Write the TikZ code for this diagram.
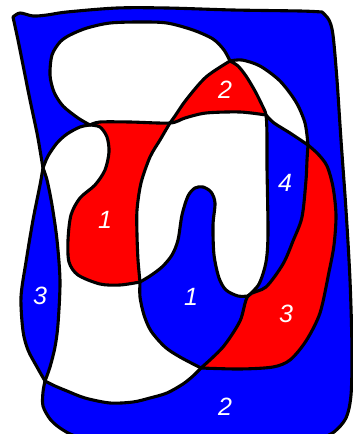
\documentclass[tikz,border=0pt]{standalone}
\usepackage{fontspec}
\setmainfont{Liberation Sans}
\begin{document}
\begin{tikzpicture}[x=1pt,y=-1pt,
  edge/.style={line width=3.1pt,line join=round,line cap=round},
  lab/.style={text=white,inner sep=0pt,font=\itshape\fontsize{25}{25}\selectfont}]
\useasboundingbox (0,0) rectangle (353,434);
\definecolor{mblue}{RGB}{0,0,255}
\definecolor{mred}{RGB}{255,0,0}
% outer blue
\fill[mblue] plot[smooth] coordinates {(45,381) (37,367) (28,350) (23,331) (21,297) (26,262) (33,220) (40,185) (43,168)}
 -- plot[smooth] coordinates {(43,168) (40,150) (37,133) (30,100) (24,70) (18,40) (13,17)}
 -- plot[smooth] coordinates {(13,17) (20,13) (33,16) (47,15) (67,12) (117,8) (167,8) (233,10) (300,11) (322,12)}
 -- plot[smooth] coordinates {(322,12) (329,20) (333,35) (337,80) (341,140) (346,210) (350,280) (352,350) (351,395) (346,418) (334,432) (318,440)}
 -- plot[smooth] coordinates {(100,441) (75,436) (60,428) (50,419) (43,406) (43,392) (45,381)} -- cycle;
% big white interior
\fill[white] plot[smooth] coordinates {(43,168) (48,156) (57,143) (67,134) (80,127) (90,125)}
 -- plot[smooth] coordinates {(90,125) (78,118) (63,106) (54,92) (50,75) (52,55) (60,42) (70,35) (87,28) (110,23) (140,22) (167,23) (193,30) (213,39) (224,50) (230,61)}
 -- plot[smooth] coordinates {(230,61) (242,60) (260,66) (280,81) (296,102) (305,123) (308,145)}
 -- plot[smooth] coordinates {(308,145) (318,154) (327,166) (333,187) (336,215) (334,245) (329,272) (320,313) (306,341) (290,360) (273,367) (240,369) (201,368)}
 -- plot[smooth] coordinates {(201,368) (193,376) (183,384) (167,393) (150,398) (133,402) (110,403) (85,398) (67,391) (55,386) (45,381)}
 -- plot[smooth] coordinates {(45,381) (50,367) (55,347) (58,324) (60,281) (57,240) (52,205) (47,180) (43,168)} -- cycle;
% red 1
\fill[mred] plot[smooth] coordinates {(90,125) (100,127) (107,137) (109,152) (105,170) (95,185) (80,198) (71,215) (68,240) (69,262) (78,275) (100,284) (120,285) (140,282)}
 -- plot[smooth] coordinates {(140,282) (138,260) (137,235) (137,210) (141,183) (150,157) (160,140) (170,123)}
 -- plot[smooth] coordinates {(170,123) (130,122) (100,122) (90,125)} -- cycle;
% red 2
\fill[mred] plot[smooth] coordinates {(170,123) (175,116) (186,100) (206,77) (230,61)}
 -- plot[smooth] coordinates {(230,61) (238,66) (246,76) (255,91) (262,105) (266,115)}
 -- plot[smooth] coordinates {(266,115) (240,112) (206,113) (185,118) (170,123)} -- cycle;
% red 3
\fill[mred] plot[smooth] coordinates {(308,145) (307,160) (306,180) (302,217) (293,241) (283,264) (266,287) (248,296)}
 -- plot[smooth] coordinates {(248,296) (240,321) (223,347) (201,368)}
 -- plot[smooth] coordinates {(201,368) (240,369) (273,367) (290,360) (306,341) (320,313) (329,272) (334,245) (336,215) (333,187) (327,166) (318,154) (308,145)} -- cycle;
% blue 4
\fill[mblue] plot[smooth] coordinates {(266,115) (274,123) (290,133) (308,145)}
 -- plot[smooth] coordinates {(308,145) (307,160) (306,180) (302,217) (293,241) (283,264) (266,287) (248,296)}
 -- plot[smooth] coordinates {(248,296) (259,284) (266,262) (268,233) (267,167) (267,135) (266,115)} -- cycle;
% blue 1
\fill[mblue] plot[smooth] coordinates {(140,282) (140,297) (144,315) (151,331) (165,347) (180,357) (201,368)}
 -- plot[smooth] coordinates {(201,368) (223,347) (240,321) (248,296)}
 -- plot[smooth] coordinates {(248,296) (238,296) (226,290) (219,278) (214,255) (213,225) (215,203) (211,192) (203,187) (195,188) (188,196) (182,215) (178,240) (172,255) (162,267) (150,276) (140,282)} -- cycle;
% outlines
\draw[edge] plot[smooth] coordinates {(45,381) (37,367) (28,350) (23,331) (21,297) (26,262) (33,220) (40,185) (43,168)};
\draw[edge] plot[smooth] coordinates {(43,168) (40,150) (37,133) (30,100) (24,70) (18,40) (13,17)}
 -- plot[smooth] coordinates {(13,17) (20,13) (33,16) (47,15) (67,12) (117,8) (167,8) (233,10) (300,11) (322,12)}
 -- plot[smooth] coordinates {(322,12) (329,20) (333,35) (337,80) (341,140) (346,210) (350,280) (352,350) (351,395) (346,418) (334,432) (318,440)}
 -- plot[smooth] coordinates {(100,441) (75,436) (60,428) (50,419) (43,406) (43,392) (45,381)};
\draw[edge] plot[smooth] coordinates {(43,168) (47,180) (52,205) (57,240) (60,281) (58,324) (55,347) (50,367) (45,381)};
\draw[edge] plot[smooth] coordinates {(43,168) (48,156) (57,143) (67,134) (80,127) (90,125)};
\draw[edge] plot[smooth] coordinates {(90,125) (78,118) (63,106) (54,92) (50,75) (52,55) (60,42) (70,35) (87,28) (110,23) (140,22) (167,23) (193,30) (213,39) (224,50) (230,61)};
\draw[edge] plot[smooth] coordinates {(230,61) (242,60) (260,66) (280,81) (296,102) (305,123) (308,145)};
\draw[edge] plot[smooth] coordinates {(308,145) (318,154) (327,166) (333,187) (336,215) (334,245) (329,272) (320,313) (306,341) (290,360) (273,367) (240,369) (201,368)};
\draw[edge] plot[smooth] coordinates {(45,381) (55,386) (67,391) (85,398) (110,403) (133,402) (150,398) (167,393) (183,384) (193,376) (201,368)};
\draw[edge] plot[smooth] coordinates {(90,125) (100,122) (130,122) (170,123) (185,118) (206,113) (240,112) (266,115)};
\draw[edge] plot[smooth] coordinates {(230,61) (206,77) (186,100) (175,116) (170,123) (160,140) (150,157) (141,183) (137,210) (137,235) (138,260) (140,282)};
\draw[edge] plot[smooth] coordinates {(230,61) (238,66) (246,76) (255,91) (262,105) (266,115) (267,135) (267,167) (268,233) (266,262) (259,284) (248,296)};
\draw[edge] plot[smooth] coordinates {(248,296) (238,296) (226,290) (219,278) (214,255) (213,225) (215,203) (211,192) (203,187) (195,188) (188,196) (182,215) (178,240) (172,255) (162,267) (150,276) (140,282)};
\draw[edge] plot[smooth] coordinates {(266,115) (274,123) (290,133) (308,145)};
\draw[edge] plot[smooth] coordinates {(308,145) (307,160) (306,180) (302,217) (293,241) (283,264) (266,287) (248,296) (240,321) (223,347) (201,368)};
\draw[edge] plot[smooth] coordinates {(140,282) (140,297) (144,315) (151,331) (165,347) (180,357) (201,368)};
\draw[edge] plot[smooth] coordinates {(90,125) (100,127) (107,137) (109,152) (105,170) (95,185) (80,198) (71,215) (68,240) (69,262) (78,275) (100,284) (120,285) (140,282)};
% labels
\node[lab] (l1) at (105,220) {1};
\node[lab] (l2) at (225,90) {2};
\node[lab] (l4) at (285,183) {4};
\node[lab] (l3) at (40,296) {3};
\node[lab] (l5) at (191,297) {1};
\node[lab] (l6) at (286,314) {3};
\node[lab] (l7) at (225,407) {2};
\end{tikzpicture}
\end{document}
